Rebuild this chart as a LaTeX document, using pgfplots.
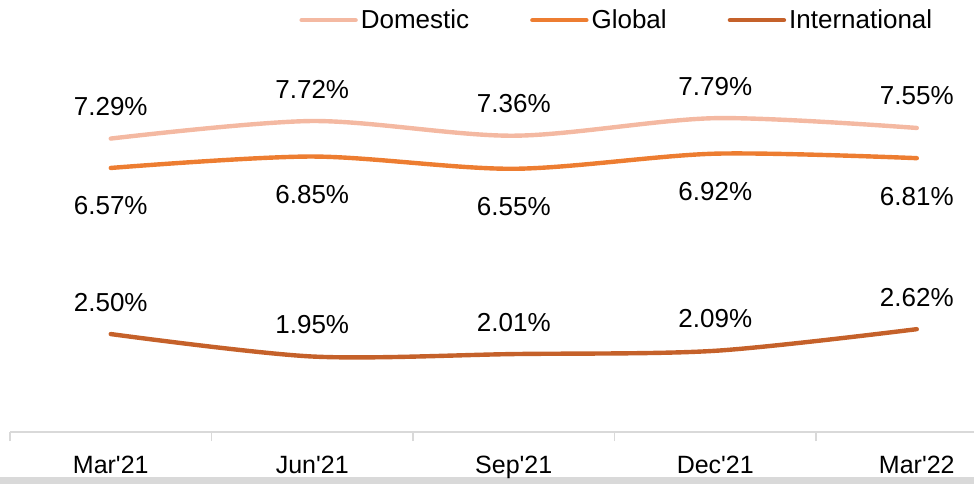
\documentclass[border=0pt]{standalone}
\usepackage{fontspec}
\setmainfont{Liberation Sans}
\usepackage{pgfplots}
\pgfplotsset{compat=1.18}
\definecolor{cDom}{HTML}{F4B9A2}
\definecolor{cGlo}{HTML}{ED7D31}
\definecolor{cInt}{HTML}{C5612A}
\definecolor{cAx}{HTML}{D9D9D9}
\begin{document}
\begin{tikzpicture}
\useasboundingbox (0,0) rectangle (487pt,242pt);
\fill[cAx] (0,0) rectangle (487pt,3.5pt);
\begin{axis}[
  at={(5pt,26pt)}, anchor=south west,
  scale only axis, width=482pt, height=191pt,
  xmin=-0.5, xmax=4.284, ymin=0.1, ymax=9.46,
  axis x line*=bottom, axis y line=none,
  x axis line style={draw=cAx, line width=0.8pt},
  xtick={0,1,2,3,4},
  xticklabels={Mar\textquotesingle 21,Jun\textquotesingle 21,Sep\textquotesingle 21,Dec\textquotesingle 21,Mar\textquotesingle 22},
  major tick length=0pt,
  extra x ticks={-0.5,0.5,1.5,2.5,3.5},
  extra x tick labels={},
  extra x tick style={major tick length=4.5pt, tick align=outside, tick style={draw=cAx, line width=0.8pt}},
  xticklabel style={anchor=base, yshift=-20.5pt, font=\fontsize{12.5}{14}\selectfont},
  /pgf/number format/assume math mode=true,
  clip=false,
  point meta=y,
  nodes near coords={\pgfmathprintnumber[fixed, fixed zerofill, precision=2]{\pgfplotspointmeta}\%},
  every node near coord/.append style={anchor=center, font=\fontsize{13}{15}\selectfont, text=black},
  legend style={at={(0.630,1.078)}, anchor=center, draw=none, fill=none,
    legend columns=3, font=\fontsize{13}{15}\selectfont,
    /tikz/every even column/.append style={column sep=29pt},
    nodes={inner sep=1.5pt}},
  legend image code/.code={\draw[#1, line width=2.2pt, line cap=round] (0pt,0pt) -- (27pt,0pt);},
]
\addplot[cDom, line width=2.2pt, smooth, line cap=round, every node near coord/.append style={yshift=16pt}]
  coordinates {(0,7.29) (1,7.72) (2,7.36) (3,7.79) (4,7.55)};
\addlegendentry{Domestic}
\addplot[cGlo, line width=2.2pt, smooth, line cap=round, every node near coord/.append style={yshift=-19pt}]
  coordinates {(0,6.57) (1,6.85) (2,6.55) (3,6.92) (4,6.81)};
\addlegendentry{Global}
\addplot[cInt, line width=2.2pt, smooth, line cap=round, every node near coord/.append style={yshift=16pt}]
  coordinates {(0,2.50) (1,1.95) (2,2.01) (3,2.09) (4,2.62)};
\addlegendentry{International}
\end{axis}
\end{tikzpicture}
\end{document}
